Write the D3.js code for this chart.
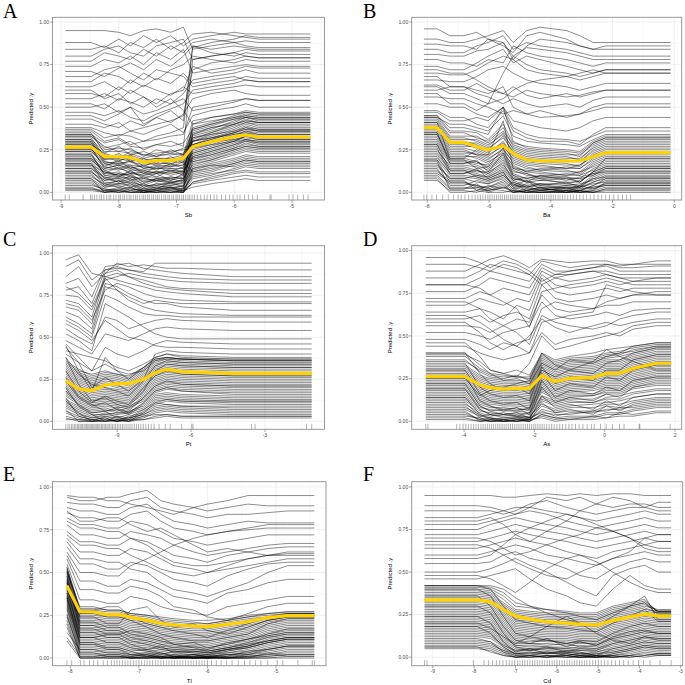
<!DOCTYPE html>
<html><head><meta charset="utf-8">
<script src="https://cdn.jsdelivr.net/npm/d3@7"></script>
<style>html,body{margin:0;padding:0;background:#fff;} svg{display:block}</style>
</head><body>
<svg id="chart" width="685" height="685"></svg>
<script>
// ---------- shared y ticks (predicted values in percent) ----------
const yTickValues = [0, 25, 50, 75, 100];
const yTickLabels = ["0.00", "0.25", "0.50", "0.75", "1.00"];

// ---------- A : Sb ----------
const sbGrid = [-8.93,-8.48,-8.25,-8.0,-7.8,-7.57,-7.35,-7.1,-6.88,-6.72,-6.4,-6.0,-5.8,-5.58,-4.68];
const sbPdp = [26.6,26.6,21,21,20.5,17.6,18.6,18.6,20,26.8,29.7,32.7,33.7,32.5,32.5];
const sbIce = [
[2,2,0,0,1,0,0,1,0,8,10,14,16,15,15],[5,5,1,2,3,0,1,2,1,12,15,18,20,19,19],[8,8,3,4,2,1,2,3,2,15,18,22,24,23,23],
[10,10,4,5,6,2,3,4,3,18,20,25,27,26,26],[12,12,6,5,7,3,5,5,4,20,23,27,30,28,28],[14,14,7,8,6,4,4,6,5,22,25,29,31,30,30],
[16,16,9,8,9,6,7,6,7,24,27,31,33,32,32],[18,18,10,11,10,7,8,9,8,25,28,32,35,33,33],[19,19,12,10,12,9,9,8,10,27,30,34,36,35,35],
[21,21,13,14,12,10,11,12,11,28,31,35,38,36,36],[22,22,15,13,15,12,12,13,12,30,33,37,40,38,38],[24,24,16,17,15,13,14,14,14,31,35,39,41,40,40],
[25,25,18,17,18,14,15,16,16,33,36,40,43,41,41],[27,27,19,20,18,16,17,17,18,34,38,41,44,42,42],[28,28,20,21,21,17,18,19,20,36,39,43,45,44,44],
[30,30,22,21,22,19,20,20,22,37,40,44,46,45,45],[31,31,24,24,23,20,22,22,23,30,32,34,35,34,34],[33,33,25,26,25,22,23,24,25,26,28,30,31,30,30],
[3,3,0,1,0,0,0,0,1,5,7,9,10,9,9],[7,7,2,1,3,0,2,1,0,6,8,11,12,11,11],[11,11,3,5,4,1,2,3,1,10,12,16,18,17,17],
[15,15,8,6,8,3,5,4,6,14,17,20,22,21,21],[20,20,11,12,9,8,7,9,8,16,19,23,25,24,24],[26,26,14,16,14,11,12,11,13,21,24,28,30,29,29],
[29,29,17,18,16,15,14,15,16,23,26,30,33,32,32],[32,32,21,19,20,18,16,18,19,38,41,45,47,46,46],[17,17,5,7,5,2,4,3,2,35,38,40,42,41,41],
[23,23,10,9,11,6,8,7,9,40,42,44,45,44,44],[34,34,26,28,30,25,28,30,27,78,80,82,84,83,83],[36,36,30,32,28,30,33,35,38,85,88,90,92,91,91],
[38,38,35,33,36,38,40,42,45,72,76,78,80,79,79],[40,40,38,41,36,34,37,40,35,45,48,50,52,50,50],[43,43,40,38,42,39,44,41,46,55,58,60,58,57,57],
[47,47,45,48,44,42,46,49,52,60,62,64,66,65,65],[50,50,52,47,50,46,48,52,55,48,50,53,55,54,54],[52,52,49,55,53,50,55,52,58,66,68,70,72,70,70],
[55,55,58,54,60,56,52,58,60,74,70,72,74,73,73],[58,58,56,62,58,63,60,57,62,58,60,62,63,62,62],[62,62,65,60,66,62,67,64,70,64,66,68,66,65,65],
[65,65,70,68,64,70,66,72,75,80,78,76,78,77,77],[68,68,72,74,70,66,72,70,68,62,64,66,68,67,67],[71,71,68,73,76,72,78,74,80,86,84,86,85,84,84],
[74,74,78,76,80,75,82,78,84,70,72,74,75,74,74],[77,77,82,80,78,84,80,86,82,88,90,88,86,85,85],[80,80,84,86,82,80,86,88,90,78,80,82,80,79,79],
[84,84,86,82,88,85,90,84,88,93,94,92,91,90,90],[88,88,85,90,86,92,88,92,86,90,92,94,93,93,93],[95,95,95,94,92,95,96,94,97,84,86,88,89,88,88],
[45,45,42,46,50,40,44,48,42,86,82,80,82,81,81],[60,60,55,58,52,56,50,55,48,40,44,46,48,47,47],
[1,1,0,1,0,0,1,0,0,6,9,12,13,12,12],[4,4,2,0,2,1,0,0,2,9,11,13,15,14,14],[6,6,1,3,1,2,1,3,0,11,13,17,19,18,18],
[9,9,5,3,5,1,3,2,4,13,16,19,21,20,20],[13,13,4,7,3,5,2,6,3,17,19,24,26,25,25],[14,14,9,6,10,4,7,5,8,19,22,26,29,27,27],
[17,17,8,11,7,9,6,8,6,21,24,28,31,29,29],[19,19,13,9,13,8,11,7,11,23,26,30,33,31,31],[22,22,11,15,11,12,9,13,10,26,29,33,36,34,34],
[24,24,17,14,16,11,15,12,15,28,32,36,39,37,37],[26,26,15,19,14,16,13,17,14,30,34,38,41,39,39],[29,29,21,18,22,15,19,16,21,32,35,40,42,41,41],
[31,31,19,23,18,20,17,21,17,34,37,42,44,43,43],[33,33,27,24,26,21,25,23,26,28,31,35,37,36,36],[35,35,23,27,22,24,21,25,22,18,21,25,27,26,26],
[2,2,1,0,0,1,0,2,1,3,5,7,8,7,7],[8,8,0,2,0,0,1,0,0,14,16,15,17,16,16],[12,12,7,9,8,5,8,6,7,27,30,31,32,31,31],
[16,16,12,10,11,10,12,10,12,32,34,36,38,37,37],[20,20,14,16,13,13,11,14,12,20,22,26,28,27,27],[25,25,20,22,19,18,20,19,21,30,32,35,37,36,36],
[28,28,23,20,24,22,21,23,22,42,44,46,47,46,46],[30,30,18,16,19,14,16,15,18,12,14,17,19,18,18],[34,34,29,31,27,26,28,27,29,37,40,43,44,43,43],
[37,37,32,34,33,30,31,33,34,50,52,54,55,54,54]
];
const sbRug = [-8.93,-8.86,-8.62,-8.49,-8.46,-8.42,-8.38,-8.33,-8.3,-8.26,-8.21,-8.17,-8.14,-8.09,-8.05,-8.0,-7.97,-7.93,-7.9,-7.86,-7.82,-7.79,-7.75,-7.71,-7.68,-7.64,-7.6,-7.57,-7.54,-7.5,-7.47,-7.43,-7.4,-7.36,-7.33,-7.3,-7.26,-7.22,-7.19,-7.15,-7.12,-7.08,-7.05,-7.01,-6.98,-6.95,-6.91,-6.88,-6.84,-6.8,-6.77,-6.73,-6.69,-6.64,-6.58,-6.52,-6.47,-6.41,-6.35,-6.3,-6.22,-6.15,-6.08,-6.02,-5.95,-5.9,-5.82,-5.75,-5.68,-5.6,-5.38,-5.36,-5.05,-4.98,-4.9,-4.8,-4.72];
const sbTicks = [-9,-8,-7,-6,-5];
const sbTickLabels = ["-9","-8","-7","-6","-5"];

// ---------- B : Ba ----------
const baGrid = [-8.11,-7.68,-7.27,-6.81,-6.4,-6.03,-5.54,-5.22,-4.78,-4.35,-3.49,-3.06,-2.63,-2.22,-0.12];
const baPdp = [38,38,29.4,29.4,26.8,24.9,27.4,22.9,19,18.4,18.4,18.4,20.9,23.3,23.3];
const baIce = [
[10,10,3,3,2,1,4,0,0,0,0,0,1,3,3],[13,13,5,5,4,3,6,1,0,1,0,0,2,5,5],[16,16,8,8,6,5,9,3,1,0,1,1,4,7,7],
[19,19,10,10,9,7,11,5,2,2,1,2,6,9,9],[22,22,13,13,11,9,14,7,4,3,3,3,8,11,11],[25,25,15,15,13,11,16,9,6,5,5,4,10,13,13],
[28,28,18,18,16,13,19,11,8,7,6,6,12,15,15],[30,30,20,20,18,15,21,13,10,9,8,8,14,17,17],[32,32,22,22,20,17,24,15,12,11,10,10,16,19,19],
[34,34,24,24,22,19,26,17,14,13,12,12,18,21,21],[36,36,26,26,24,21,28,19,16,15,14,14,20,23,23],[38,38,28,28,26,23,30,21,18,17,16,16,22,25,25],
[40,40,30,30,28,25,33,23,20,19,18,18,24,27,27],[42,42,32,32,30,27,35,25,22,21,20,20,26,29,29],[44,44,35,35,32,30,38,27,24,23,22,22,28,31,31],
[12,12,7,7,1,4,2,6,3,5,2,4,2,4,4],[18,18,2,2,5,0,3,0,1,3,0,1,0,2,2],[26,26,11,11,14,8,12,4,7,2,4,3,6,8,8],
[35,35,17,17,19,12,23,8,6,10,7,9,11,14,14],[45,45,38,38,36,34,50,30,26,25,24,23,29,32,32],[7,7,1,1,0,2,1,0,2,1,3,0,0,1,1],
[41,41,20,20,25,22,42,14,11,8,9,6,12,20,20],[48,48,44,44,40,38,48,36,32,30,30,28,34,38,38],[52,52,50,50,46,44,50,42,40,38,36,38,42,44,44],
[56,56,55,55,52,50,46,48,46,44,45,46,48,50,50],[60,60,62,62,58,56,52,55,52,50,52,50,54,56,56],[63,63,60,60,64,60,58,62,57,55,58,56,58,60,60],
[66,66,65,65,68,72,74,70,66,64,62,60,62,64,64],[70,70,69,69,72,76,80,78,72,70,68,66,68,70,70],[74,74,72,72,76,80,84,76,80,78,74,72,70,72,72],
[78,78,76,76,74,78,76,86,82,80,78,76,74,76,76],[81,81,80,80,83,84,88,80,85,84,82,80,78,78,78],[84,84,82,82,86,88,92,84,88,86,84,82,80,80,80],
[87,87,86,86,84,90,86,82,92,94,90,86,84,84,84],[90,90,88,88,90,92,95,88,95,97,95,92,88,88,88],[96,96,92,92,94,90,88,78,86,90,88,86,84,86,86],
[62,62,58,58,55,52,70,80,75,72,70,68,70,72,72],[72,72,70,70,66,62,58,56,60,58,56,57,59,60,60],[58,58,52,52,48,52,55,60,64,66,68,70,72,70,70],
[68,68,62,62,60,58,62,50,46,48,44,46,50,52,52],
[9,9,2,2,3,1,3,1,0,0,1,0,0,2,2],[11,11,6,6,4,2,5,0,1,0,0,1,3,4,4],[14,14,4,4,7,5,8,2,0,2,1,0,1,6,6],
[15,15,9,9,8,6,10,4,3,1,2,3,5,6,6],[17,17,8,8,10,8,12,3,5,4,2,1,4,8,8],[20,20,12,12,10,9,13,6,3,5,4,5,7,10,10],
[21,21,11,11,13,10,15,8,7,4,6,3,9,12,12],[23,23,14,14,12,12,17,7,9,8,5,7,11,12,12],[24,24,16,16,15,11,18,10,8,10,9,8,10,14,14],
[27,27,17,17,18,14,20,12,11,9,11,10,13,16,16],[29,29,19,19,17,16,22,14,13,12,10,12,15,18,18],[31,31,21,21,21,18,23,16,12,14,13,11,17,20,20],
[33,33,23,23,23,20,25,18,15,13,15,14,19,22,22],[35,35,25,25,22,22,27,20,17,16,14,16,21,24,24],[37,37,27,27,27,24,29,22,19,18,17,15,23,26,26],
[39,39,29,29,29,26,32,24,21,20,19,18,25,28,28],[41,41,31,31,31,28,34,26,23,22,21,19,27,30,30],[43,43,33,33,33,29,36,28,25,24,23,21,29,32,32],
[45,45,36,36,35,31,40,29,27,26,25,24,30,33,33],[8,8,0,0,1,0,0,1,0,0,0,1,0,0,0],[19,19,6,6,3,3,7,2,4,1,3,2,3,5,5],
[28,28,13,13,9,7,10,5,1,3,0,4,8,9,9],[34,34,19,19,14,15,26,10,6,7,8,6,12,15,15],[44,44,40,40,38,36,45,33,30,29,28,27,31,34,34],
[47,47,42,42,44,42,50,38,34,32,31,30,33,36,36]
];
const baRug = [-8.11,-8.02,-7.85,-7.7,-7.5,-7.32,-7.15,-7.0,-6.9,-6.78,-6.66,-6.55,-6.45,-6.36,-6.28,-6.2,-6.12,-6.04,-5.97,-5.9,-5.83,-5.76,-5.7,-5.63,-5.57,-5.5,-5.44,-5.38,-5.31,-5.25,-5.19,-5.13,-5.07,-5.0,-4.94,-4.88,-4.82,-4.76,-4.7,-4.64,-4.58,-4.52,-4.46,-4.4,-4.33,-4.27,-4.2,-4.13,-4.06,-3.99,-3.92,-3.85,-3.77,-3.7,-3.62,-3.54,-3.45,-3.36,-3.27,-3.17,-3.06,-2.95,-2.84,-2.72,-2.6,-2.47,-2.35,-2.22,-2.1,-1.96,-1.82,-1.68,-1.55,-1.42];
const baTicks = [-8,-6,-4,-2,0];
const baTickLabels = ["-8","-6","-4","-2","0"];

// ---------- C : Pt ----------
const ptGrid = [-11.09,-10.57,-10.03,-9.49,-9.01,-8.54,-7.93,-7.46,-6.99,-6.38,-4.28,-1.1];
const ptPdp = [24.2,19.2,18.2,21.6,22.4,22.4,25,28.9,30.9,29.5,28.5,28.5];
const ptIce = [
[2,0,0,0,1,0,2,5,6,5,4,4],[5,2,0,1,0,2,4,8,9,8,7,7],[8,4,2,3,2,1,6,10,12,11,10,10],[10,6,3,5,4,5,8,13,14,13,12,12],
[12,8,5,6,7,4,10,15,16,15,14,14],[15,10,7,8,6,8,12,17,19,18,17,17],[17,12,9,10,9,7,14,19,21,20,19,19],[19,14,11,12,11,10,16,21,23,22,21,21],
[21,16,13,14,13,12,18,23,25,24,23,23],[23,18,15,16,15,14,20,25,27,26,25,25],[25,20,17,18,17,16,22,27,29,28,27,27],[27,22,19,20,19,18,24,29,31,30,29,29],
[29,24,21,23,21,20,26,31,33,32,31,31],[31,26,23,25,24,22,28,33,35,34,33,33],[33,28,25,27,26,24,30,35,37,36,35,35],[14,3,1,2,0,1,3,4,4,3,3,3],
[20,9,4,0,3,0,5,11,10,9,9,9],[26,15,10,6,8,5,11,18,20,18,16,16],[35,30,28,30,28,27,32,37,38,37,36,36],[38,22,12,14,10,9,18,30,34,33,32,32],
[44,35,20,26,22,18,25,40,42,41,40,40],[48,44,40,52,50,48,52,55,56,55,54,54],[55,50,46,62,60,55,58,60,61,60,59,59],[60,56,50,75,72,68,64,63,63,62,62,62],
[65,62,55,82,80,76,72,70,70,68,66,66],[68,66,58,86,84,82,80,78,77,76,74,74],[72,70,62,88,90,86,84,82,80,79,78,78],[75,74,66,84,86,88,86,85,84,83,82,82],
[78,80,70,90,92,90,88,87,86,85,84,84],[82,85,74,92,93,94,91,90,89,88,86,86],[86,92,80,88,94,92,93,92,91,91,90,90],[92,96,84,90,91,90,89,94,94,94,94,94],
[96,99,88,86,88,86,82,80,79,78,76,76],[52,48,42,70,66,62,56,52,50,49,49,49],[58,54,48,60,55,50,48,45,44,44,43,43],[40,35,30,44,40,38,42,46,48,47,46,46],
[62,58,52,80,78,74,70,72,71,70,70,70],[70,68,60,78,82,80,76,74,73,72,71,71],[45,30,18,38,30,25,32,38,40,38,37,37],[80,76,68,85,78,72,68,66,65,64,63,63],
[1,1,0,0,0,1,1,3,4,3,3,3],[3,1,1,0,1,0,3,6,7,6,5,5],[6,3,1,2,0,3,5,9,10,9,8,8],[9,5,2,4,3,2,7,11,13,12,11,11],
[11,7,4,4,5,6,9,14,15,14,13,13],[13,9,6,7,5,5,11,16,17,16,15,15],[16,11,8,9,8,9,13,18,20,19,18,18],[18,13,10,11,10,8,15,20,22,21,20,20],
[20,15,12,13,12,11,17,22,24,23,22,22],[22,17,14,15,14,13,19,24,26,25,24,24],[24,19,16,17,16,15,21,26,28,27,26,26],[26,21,18,19,18,17,23,28,30,29,28,28],
[28,23,20,22,20,19,25,30,32,31,30,30],[30,25,22,24,23,21,27,32,34,33,32,32],[32,27,24,26,25,23,29,34,36,35,34,34],[34,29,26,28,27,25,31,36,37,37,36,36],
[36,31,27,29,28,26,32,37,38,37,37,37],[7,0,0,1,0,0,1,2,3,2,2,2],[12,5,0,3,1,2,4,7,8,7,6,6],[18,10,5,6,2,4,7,12,13,12,12,12],
[24,14,9,11,7,6,14,21,24,22,21,21],[30,18,11,15,12,10,20,27,30,28,27,27],[38,28,22,20,18,15,24,33,36,35,34,34],[42,40,38,36,32,30,34,38,40,39,38,38],
[46,38,30,34,30,28,30,36,38,37,36,36]
];
const ptRug = [-11.09,-11.0,-10.93,-10.86,-10.8,-10.74,-10.68,-10.62,-10.57,-10.51,-10.46,-10.41,-10.35,-10.3,-10.25,-10.2,-10.15,-10.1,-10.05,-10.0,-9.95,-9.9,-9.85,-9.8,-9.75,-9.7,-9.64,-9.59,-9.53,-9.48,-9.42,-9.37,-9.31,-9.25,-9.19,-9.13,-9.07,-9.0,-8.93,-8.86,-8.79,-8.72,-8.64,-8.56,-8.48,-8.4,-8.31,-8.22,-8.13,-8.04,-7.94,-7.84,-7.73,-7.62,-7.5,-7.3,-7.05,-6.85,-6.38,-5.97,-5.92,-3.54,-3.4,-1.31,-1.1];
const ptTicks = [-9,-6,-3];
const ptTickLabels = ["-9","-6","-3"];

// ---------- D : As ----------
const asGrid = [-5.09,-3.97,-3.55,-3.26,-2.88,-2.5,-2.14,-1.79,-1.41,-1.0,-0.33,0.05,0.43,0.81,1.47,1.89];
const asPdp = [26.2,26.2,21.3,19.7,18.8,19.3,19.3,26.8,23.2,25.2,25.6,28.1,28.1,31,34,34];
const asIce = [
[1,1,0,0,0,0,0,3,1,2,2,4,4,6,8,8],[4,4,1,0,1,0,1,6,3,5,5,7,7,9,11,11],[7,7,3,2,1,2,1,9,6,8,8,10,10,12,14,14],
[10,10,5,3,4,3,2,12,9,11,11,13,13,16,18,18],[12,12,6,5,4,5,4,14,11,13,13,16,16,19,21,21],[14,14,8,7,6,6,5,17,13,15,15,18,18,21,24,24],
[16,16,10,8,8,7,7,19,15,17,18,20,20,23,26,26],[18,18,12,10,9,9,8,21,17,19,20,22,22,25,28,28],[20,20,14,12,11,11,10,23,19,21,22,24,24,27,30,30],
[22,22,16,14,13,13,12,25,21,23,24,26,26,29,32,32],[24,24,18,16,15,15,14,27,23,25,26,28,28,31,34,34],[26,26,20,18,17,17,16,29,25,27,28,30,30,33,36,36],
[28,28,22,20,19,19,18,31,27,29,30,32,32,35,38,38],[30,30,24,22,21,21,20,33,29,31,32,34,34,37,40,40],[32,32,26,24,23,23,22,35,31,33,34,36,36,39,42,42],
[35,35,30,27,26,26,25,38,34,36,37,39,40,41,44,44],[9,9,2,0,0,1,0,4,2,1,3,2,5,4,6,6],[19,19,7,4,2,3,1,15,8,10,7,12,9,14,16,16],
[27,27,12,9,6,8,4,24,14,18,16,20,18,24,26,26],[40,40,33,28,24,25,22,34,30,36,34,38,40,44,46,46],[25,25,15,18,20,22,24,40,33,30,35,42,38,35,30,30],
[44,44,40,38,36,38,40,52,45,48,50,52,50,54,56,56],[48,48,45,42,46,44,50,60,55,52,56,58,56,58,60,60],[52,52,50,48,52,54,56,70,62,60,62,64,62,65,66,66],
[56,56,55,52,56,60,58,74,66,64,66,68,68,70,70,70],[60,60,62,58,62,64,60,80,72,70,72,74,72,74,74,74],[64,64,66,64,60,68,65,84,76,74,76,78,76,78,78,78],
[68,68,72,70,68,72,70,86,80,78,80,82,80,82,82,82],[72,72,76,74,78,76,74,88,84,82,84,86,84,84,84,84],[76,76,80,84,82,80,78,90,86,86,88,88,86,86,86,86],
[80,80,84,88,86,84,82,92,88,88,90,91,88,88,88,88],[84,84,88,92,90,88,86,94,92,90,92,92,90,90,91,91],[88,88,92,95,97,94,90,95,94,93,94,94,92,92,92,92],
[92,92,90,88,92,90,86,80,84,86,88,86,84,82,84,84],[96,96,93,90,94,92,88,82,86,88,90,92,91,92,94,94],[62,62,58,54,48,44,40,58,60,62,64,80,78,76,74,74],
[70,70,66,60,56,52,45,62,58,56,54,56,60,62,64,64],[58,58,52,46,42,46,48,66,70,68,66,70,72,74,76,76],[80,80,78,74,70,66,55,76,78,80,82,84,82,80,80,80],
[46,46,38,30,28,26,34,50,42,44,48,50,52,56,58,58],
[2,2,0,1,0,1,0,4,2,3,3,5,5,7,9,9],[3,3,2,0,1,0,2,5,4,4,6,6,8,8,10,10],[5,5,1,2,0,1,1,7,5,6,6,9,8,11,13,13],
[8,8,4,1,2,2,3,10,7,9,10,11,12,14,16,16],[11,11,3,4,3,4,2,13,10,12,11,14,15,17,19,19],[13,13,7,4,5,3,5,15,12,14,15,17,17,20,22,22],
[15,15,9,6,7,8,6,18,14,16,16,19,19,22,25,25],[17,17,11,9,7,6,8,20,16,18,19,21,21,24,27,27],[19,19,13,11,10,10,9,22,18,20,21,23,23,26,29,29],
[21,21,15,13,12,12,11,24,20,22,23,25,25,28,31,31],[23,23,17,15,14,14,13,26,22,24,25,27,27,30,33,33],[25,25,19,17,16,16,15,28,24,26,27,29,29,32,35,35],
[27,27,21,19,18,18,17,30,26,28,29,31,31,34,37,37],[29,29,23,21,20,20,19,32,28,30,31,33,33,36,39,39],[31,31,25,23,22,22,21,34,30,32,33,35,35,38,41,41],
[33,33,27,25,24,24,23,36,32,34,35,37,38,40,43,43],[36,36,29,26,25,27,24,37,33,35,36,38,39,42,44,44],[38,38,31,28,27,26,26,39,35,37,38,40,41,43,45,45],
[6,6,0,1,0,0,1,2,0,1,1,2,3,3,5,5],[14,14,4,2,1,2,0,11,5,7,4,9,6,10,12,12],[22,22,9,6,4,5,2,20,11,14,12,16,14,20,23,23],
[30,30,16,12,10,11,7,28,18,22,20,26,24,30,33,33],[34,34,20,16,14,15,12,32,22,26,24,30,30,36,39,39],[39,39,35,30,28,30,27,40,36,38,40,42,43,44,46,46],
[40,40,28,22,18,20,16,30,26,30,28,34,36,40,43,43]
];
const asRug = [-5.09,-5.03,-4.21,-4.12,-4.03,-3.95,-3.88,-3.8,-3.73,-3.66,-3.59,-3.52,-3.46,-3.4,-3.34,-3.28,-3.22,-3.16,-3.1,-3.04,-2.98,-2.92,-2.86,-2.8,-2.74,-2.68,-2.62,-2.56,-2.5,-2.44,-2.38,-2.32,-2.26,-2.2,-2.14,-2.08,-2.02,-1.96,-1.9,-1.84,-1.78,-1.72,-1.65,-1.58,-1.51,-1.44,-1.36,-1.28,-1.2,-1.11,-1.02,-0.93,-0.83,-0.73,-0.62,-0.5,-0.38,-0.3,-0.12,0.04,0.22,0.42,0.55,0.98,1.0,1.86];
const asTicks = [-4,-2,0,2];
const asTickLabels = ["-4","-2","0","2"];

// ---------- E : Tl ----------
const tlGrid = [-8.05,-7.86,-7.66,-7.46,-7.29,-7.12,-6.88,-6.68,-6.49,-6.2,-6.0,-5.71,-5.41,-5.12,-4.83,-4.44];
const tlPdp = [42.3,27.1,26.9,25.3,25.5,23.8,22,20.3,19.3,18.7,18.3,19.7,21.2,23.6,24.8,24.8];
const tlIce = [
[20,0,0,0,0,0,0,0,0,0,0,0,0,1,2,2],[25,2,2,1,1,0,1,0,0,0,0,1,1,2,4,4],[28,4,4,3,3,2,1,1,0,1,0,1,2,4,6,6],
[30,6,6,5,5,3,3,2,1,1,1,2,3,6,8,8],[33,8,8,7,7,5,4,3,2,2,2,3,5,8,10,10],[35,10,10,9,9,7,6,5,4,3,3,5,7,10,12,12],
[37,12,12,11,11,9,8,6,5,5,4,6,8,12,14,14],[39,14,14,13,13,11,10,8,7,6,6,8,10,14,16,16],[41,16,16,15,15,13,12,10,9,8,8,10,12,16,18,18],
[43,18,18,17,17,15,14,12,11,10,10,12,14,18,20,20],[45,20,20,19,19,17,16,14,13,12,12,14,16,20,22,22],[47,22,22,21,21,19,18,16,15,14,14,16,18,22,24,24],
[49,24,24,23,23,21,20,18,17,16,16,18,20,23,25,25],[51,26,26,25,25,23,22,20,19,18,18,20,22,24,26,26],[53,28,28,27,27,25,24,22,21,20,20,22,24,25,26,26],
[15,5,5,3,3,1,2,0,1,0,1,0,2,3,1,1],[31,9,9,6,6,4,1,3,1,2,0,3,4,5,7,7],[38,15,15,12,12,8,5,7,3,4,3,5,6,9,11,11],
[44,19,19,16,16,12,10,8,6,7,5,9,11,13,15,15],[50,30,30,28,28,26,25,23,22,21,20,22,24,26,27,27],[12,1,1,2,2,0,0,1,0,0,0,0,0,0,1,1],
[40,24,24,20,20,28,30,22,18,20,16,14,18,22,24,24],[55,34,34,32,32,36,34,30,28,26,25,30,32,34,36,36],[60,45,45,42,42,46,44,40,36,34,32,38,40,44,46,46],
[65,55,55,52,52,56,54,50,46,44,42,48,52,55,56,56],[70,62,62,60,60,64,62,58,54,52,50,54,58,60,61,61],[74,68,68,66,66,70,68,64,60,58,56,60,62,64,65,65],
[78,72,72,70,70,74,72,70,66,62,60,62,64,66,67,67],[82,78,78,76,76,80,78,74,70,68,66,68,70,72,72,72],[85,82,82,80,80,84,86,80,76,74,72,74,75,76,76,76],
[88,86,86,84,84,88,90,84,80,78,76,78,80,79,79,79],[91,90,90,88,88,92,94,88,86,84,82,84,84,85,86,86],[94,92,92,94,94,96,98,92,90,88,86,88,90,89,89,89],
[95,94,94,92,92,90,88,86,84,88,90,92,95,95,95,95],[80,76,76,74,74,70,66,60,56,54,54,56,58,60,62,62],[72,66,66,64,64,60,56,52,50,48,50,52,54,56,58,58],
[62,50,50,48,48,54,58,62,66,70,72,74,76,78,78,78],[58,40,40,38,38,42,40,36,30,28,24,22,26,30,32,32],[86,80,80,82,82,78,74,76,72,66,62,64,62,60,60,60],
[68,58,58,56,56,52,50,44,40,38,36,40,44,50,54,54],
[18,0,0,1,1,0,0,0,1,0,0,0,1,2,3,3],[22,1,1,0,0,1,0,1,0,0,1,0,0,3,5,5],[26,3,3,2,2,1,2,0,1,0,0,2,2,5,7,7],
[29,5,5,4,4,2,2,1,0,2,1,1,4,7,9,9],[32,7,7,6,6,4,5,3,1,1,2,4,6,9,11,11],[34,9,9,8,8,6,5,4,3,2,1,4,6,9,11,11],
[36,11,11,10,10,8,7,5,4,4,3,5,7,11,13,13],[38,13,13,12,12,10,9,7,6,5,5,7,9,13,15,15],[40,15,15,14,14,12,11,9,8,7,7,9,11,15,17,17],
[42,17,17,16,16,14,13,11,10,9,9,11,13,17,19,19],[44,19,19,18,18,16,15,13,12,11,11,13,15,19,21,21],[46,21,21,20,20,18,17,15,14,13,13,15,17,21,23,23],
[48,23,23,22,22,20,19,17,16,15,15,17,19,22,24,24],[50,25,25,24,24,22,21,19,18,17,17,19,21,23,25,25],[52,27,27,26,26,24,23,21,20,19,19,21,23,24,25,25],
[53,29,29,28,28,26,25,24,23,22,22,23,25,26,27,27],[10,0,0,0,0,0,0,0,0,0,0,0,0,0,0,0],[24,3,3,1,1,0,1,0,0,1,0,0,1,1,2,2],
[36,8,8,5,5,2,3,1,2,0,1,2,3,5,7,7],[42,12,12,9,9,6,4,2,4,3,2,5,7,10,12,12],[46,17,17,14,14,10,8,6,5,4,4,6,9,12,14,14],
[48,21,21,18,18,14,12,10,8,9,6,8,11,14,17,17],[51,28,28,30,30,24,20,18,16,14,12,16,20,24,26,26],[45,26,26,24,24,22,18,14,12,10,10,12,14,20,23,23],
[35,12,12,14,14,16,14,12,8,6,4,6,8,10,12,12]
];
const tlRug = [-8.05,-7.98,-7.85,-7.8,-7.72,-7.66,-7.6,-7.52,-7.46,-7.4,-7.36,-7.32,-7.28,-7.24,-7.2,-7.16,-7.12,-7.08,-7.04,-7.0,-6.96,-6.92,-6.88,-6.84,-6.8,-6.76,-6.72,-6.68,-6.64,-6.6,-6.56,-6.52,-6.48,-6.44,-6.4,-6.36,-6.32,-6.28,-6.24,-6.2,-6.16,-6.12,-6.08,-6.04,-6.0,-5.94,-5.87,-5.8,-5.72,-5.64,-5.55,-5.46,-5.38,-5.3,-5.22,-5.12,-4.98,-4.9,-4.68,-4.47,-4.44];
const tlTicks = [-8,-7,-6,-5];
const tlTickLabels = ["-8","-7","-6","-5"];

// ---------- F : Cd ----------
const cdGrid = [-9.2,-7.92,-7.6,-7.29,-7.0,-6.65,-6.24,-5.76,-5.44,-5.04,-4.64,-4.23,-3.87,-3.55,-3.23];
const cdPdp = [33.7,33.7,32.5,28,24.1,22.4,20.8,20,19.4,18.8,21.6,23.5,25.3,24.3,24.3];
const cdIce = [
[6,6,5,2,0,0,1,0,0,0,0,1,2,1,1],[9,9,8,4,1,1,0,1,0,1,1,2,4,3,3],[12,12,11,6,2,3,2,2,1,0,2,4,6,5,5],
[15,15,14,8,4,4,3,3,2,2,4,6,8,7,7],[17,17,16,10,6,5,5,4,4,3,6,8,10,9,9],[19,19,18,12,7,7,6,6,5,5,8,10,12,11,11],
[21,21,20,14,9,8,8,7,7,6,10,12,14,13,13],[23,23,22,16,11,10,9,9,8,8,12,14,16,15,15],[25,25,24,18,13,12,11,11,10,10,14,16,18,17,17],
[27,27,26,20,15,14,13,13,12,12,16,18,20,19,19],[29,29,28,22,17,16,15,15,14,14,18,20,22,21,21],[31,31,30,24,19,18,17,17,16,16,20,22,24,23,23],
[33,33,32,26,21,20,19,19,18,18,22,24,26,25,25],[35,35,34,28,23,22,21,21,20,20,24,26,28,27,27],[37,37,36,30,25,24,23,23,22,22,26,28,30,28,28],
[39,39,38,32,27,26,25,25,24,24,28,30,32,27,27],[41,41,40,36,30,29,28,27,26,26,30,32,34,26,26],[11,11,9,3,0,1,0,2,1,1,0,0,1,2,2],
[24,24,20,9,3,5,2,4,3,1,5,7,9,8,8],[36,36,30,18,10,8,11,6,9,7,12,15,16,14,14],[42,42,42,40,35,30,26,22,20,18,24,30,36,22,22],
[20,20,17,12,8,12,18,24,20,14,10,8,12,10,10],[46,46,48,50,52,46,40,36,32,30,40,48,42,40,40],[50,50,52,55,58,54,50,44,40,36,48,52,54,50,50],
[55,55,56,60,62,58,56,52,48,46,52,56,58,56,56],[60,60,62,64,66,64,60,58,56,54,58,60,62,60,60],[64,64,66,68,70,68,66,62,60,58,62,64,66,64,64],
[68,68,70,72,74,72,70,68,66,64,66,68,70,68,68],[72,72,74,76,78,76,74,72,70,68,70,72,74,72,72],[75,75,78,80,82,80,78,76,74,72,74,76,78,76,76],
[78,78,80,82,84,86,84,80,78,76,78,80,82,80,80],[82,82,84,86,88,88,86,84,82,80,82,84,86,84,84],[86,86,86,84,86,90,92,88,86,84,86,88,88,86,86],
[89,89,88,86,84,88,94,92,94,90,88,90,90,88,88],[95,95,95,94,94,95,96,95,96,95,96,96,95,95,95],[80,80,82,78,72,68,74,80,86,90,94,92,88,91,91],
[70,70,68,64,60,62,66,70,72,76,74,70,66,68,68],[58,58,60,66,72,76,80,84,82,78,74,70,64,62,62],[48,48,46,42,38,44,52,58,60,56,50,44,40,38,38],
[66,66,64,60,56,52,48,46,50,54,58,62,70,72,72],
[5,5,4,1,0,1,0,0,1,0,1,0,1,2,2],[7,7,6,3,1,0,1,0,0,1,0,1,3,2,2],[8,8,7,4,2,2,1,1,0,0,1,3,5,4,4],
[10,10,9,5,2,2,3,2,1,2,3,5,7,6,6],[13,13,12,7,3,3,2,3,3,1,3,5,7,6,6],[14,14,13,7,4,5,4,3,2,3,5,7,9,8,8],
[16,16,15,9,5,4,5,5,4,4,7,9,11,10,10],[18,18,17,11,7,6,6,5,6,5,9,11,13,12,12],[20,20,19,13,8,8,7,8,6,7,11,13,15,14,14],
[22,22,21,15,10,9,10,8,9,7,11,13,15,14,14],[24,24,23,17,12,11,10,10,9,9,13,15,17,16,16],[26,26,25,19,14,13,12,12,11,11,15,17,19,18,18],
[28,28,27,21,16,15,14,14,13,13,17,19,21,20,20],[30,30,29,23,18,17,16,16,15,15,19,21,23,22,22],[32,32,31,25,20,19,18,18,17,17,21,23,25,24,24],
[34,34,33,27,22,21,20,20,19,19,23,25,27,26,26],[36,36,35,29,24,23,22,22,21,21,25,27,29,26,26],[38,38,37,31,26,25,24,24,23,23,27,29,31,27,27],
[40,40,39,34,28,27,26,26,25,25,29,31,33,27,27],[42,42,41,38,32,30,28,26,24,22,26,30,32,25,25],[6,6,3,1,0,0,0,1,0,0,0,1,0,1,1],
[18,18,14,6,2,1,3,1,2,0,2,4,6,5,5],[30,30,26,14,6,4,6,3,5,4,8,10,12,11,11],[40,40,36,24,14,12,10,8,10,9,14,18,20,18,18],
[42,42,40,30,22,20,18,17,16,15,20,24,28,21,21]
];
const cdRug = [-9.2,-9.14,-8.02,-7.76,-7.65,-7.55,-7.46,-7.38,-7.3,-7.22,-7.15,-7.08,-7.02,-6.95,-6.89,-6.83,-6.77,-6.71,-6.65,-6.59,-6.53,-6.47,-6.41,-6.35,-6.29,-6.23,-6.17,-6.11,-6.05,-5.99,-5.93,-5.87,-5.81,-5.75,-5.69,-5.63,-5.57,-5.51,-5.45,-5.39,-5.33,-5.27,-5.2,-5.13,-5.06,-4.99,-4.92,-4.84,-4.76,-4.67,-4.58,-4.48,-4.38,-4.27,-4.15,-4.02,-3.9,-3.74,-3.5,-3.23];
const cdTicks = [-9,-8,-7,-6,-5,-4,-3];
const cdTickLabels = ["-9","-8","-7","-6","-5","-4","-3"];

// ---------- layout (positions only) ----------
const panels = [
  {letter:"A", title:"Sb", grid:sbGrid, pdp:sbPdp, ice:sbIce, rug:sbRug, ticks:sbTicks, tickLabels:sbTickLabels,
   box:[52.5,17.3,324.5,200], xDomain:[-9.15,-4.435], yDomain:[-4.5,102.8], letterPos:[3,18]},
  {letter:"B", title:"Ba", grid:baGrid, pdp:baPdp, ice:baIce, rug:baRug, ticks:baTicks, tickLabels:baTickLabels,
   box:[411.7,17.3,681.7,200], xDomain:[-8.505,0.24], yDomain:[-4.5,102.8], letterPos:[363,18]},
  {letter:"C", title:"Pt", grid:ptGrid, pdp:ptPdp, ice:ptIce, rug:ptRug, ticks:ptTicks, tickLabels:ptTickLabels,
   box:[52.5,245.7,324.5,429.3], xDomain:[-11.63,-0.58], yDomain:[-4.75,104.4], letterPos:[3,246]},
  {letter:"D", title:"As", grid:asGrid, pdp:asPdp, ice:asIce, rug:asRug, ticks:asTicks, tickLabels:asTickLabels,
   box:[411.7,245.7,681.7,429.3], xDomain:[-5.49,2.19], yDomain:[-4.7,102.9], letterPos:[363,246]},
  {letter:"E", title:"Tl", grid:tlGrid, pdp:tlPdp, ice:tlIce, rug:tlRug, ticks:tlTicks, tickLabels:tlTickLabels,
   box:[52.5,481.7,326,665.7], xDomain:[-8.26,-4.27], yDomain:[-4.5,103.1], letterPos:[3,481]},
  {letter:"F", title:"Cd", grid:cdGrid, pdp:cdPdp, ice:cdIce, rug:cdRug, ticks:cdTicks, tickLabels:cdTickLabels,
   box:[411.7,481.7,682.7,665.7], xDomain:[-9.51,-2.95], yDomain:[-5,103.1], letterPos:[363,481]}
];

const svg = d3.select("#chart");
svg.append("rect").attr("width",685).attr("height",685).attr("fill","#fff");
const sans = "'Liberation Sans', Arial, Helvetica, sans-serif";

function minors(ticks, domain) {
  const out = [];
  const step = ticks[1] - ticks[0];
  const ext = [ticks[0] - step, ...ticks, ticks[ticks.length-1] + step];
  for (let i = 0; i < ext.length - 1; i++) {
    const m = (ext[i] + ext[i+1]) / 2;
    if (m > domain[0] && m < domain[1]) out.push(m);
  }
  return out;
}

panels.forEach(p => {
  const [x0, y0, x1, y1] = p.box;
  const xs = d3.scaleLinear().domain(p.xDomain).range([x0, x1]);
  const ys = d3.scaleLinear().domain(p.yDomain).range([y1, y0]);
  const g = svg.append("g");

  // grid
  const gridG = g.append("g");
  minors(p.ticks, p.xDomain).forEach(v => gridG.append("line").attr("x1",xs(v)).attr("x2",xs(v)).attr("y1",y0).attr("y2",y1).attr("stroke","#f0f0f0").attr("stroke-width",0.4));
  minors(yTickValues, p.yDomain).forEach(v => gridG.append("line").attr("x1",x0).attr("x2",x1).attr("y1",ys(v)).attr("y2",ys(v)).attr("stroke","#f0f0f0").attr("stroke-width",0.4));
  p.ticks.forEach(v => gridG.append("line").attr("x1",xs(v)).attr("x2",xs(v)).attr("y1",y0).attr("y2",y1).attr("stroke","#e6e6e6").attr("stroke-width",0.6));
  yTickValues.forEach(v => gridG.append("line").attr("x1",x0).attr("x2",x1).attr("y1",ys(v)).attr("y2",ys(v)).attr("stroke","#e6e6e6").attr("stroke-width",0.6));

  // ICE curves
  const line = d3.line().defined(d => d[1] !== undefined).x(d => xs(d[0])).y(d => ys(d[1]));
  g.append("g").selectAll("path").data(p.ice).join("path")
    .attr("d", c => line(p.grid.map((x, i) => [x, c[i]])))
    .attr("fill","none").attr("stroke","#000").attr("stroke-opacity",0.6).attr("stroke-width",0.75);

  // PDP
  g.append("path").attr("d", line(p.grid.map((x, i) => [x, p.pdp[i]])))
    .attr("fill","none").attr("stroke","#FFD100").attr("stroke-width",3.2).attr("stroke-linejoin","round");

  // rug
  g.append("g").selectAll("line").data(p.rug).join("line")
    .attr("x1", d => xs(d)).attr("x2", d => xs(d)).attr("y1", y1).attr("y2", y1 - 5.5)
    .attr("stroke","#000").attr("stroke-opacity",0.5).attr("stroke-width",0.6);

  // border
  g.append("rect").attr("x",x0).attr("y",y0).attr("width",x1-x0).attr("height",y1-y0)
    .attr("fill","none").attr("stroke","#8f8f8f").attr("stroke-width",0.9);

  // x axis
  p.ticks.forEach((v, i) => {
    g.append("line").attr("x1",xs(v)).attr("x2",xs(v)).attr("y1",y1).attr("y2",y1+2.7).attr("stroke","#555").attr("stroke-width",0.5);
    g.append("text").attr("x",xs(v)).attr("y",y1+7.5).attr("text-anchor","middle")
      .attr("font-family",sans).attr("font-size",5).attr("fill","#4d4d4d").text(p.tickLabels[i]);
  });
  g.append("text").attr("x",(x0+x1)/2).attr("y",y1+17).attr("text-anchor","middle")
    .attr("font-family",sans).attr("font-size",6).attr("fill","#000").text(p.title);

  // y axis
  yTickValues.forEach((v, i) => {
    g.append("line").attr("x1",x0-2.7).attr("x2",x0).attr("y1",ys(v)).attr("y2",ys(v)).attr("stroke","#555").attr("stroke-width",0.5);
    g.append("text").attr("x",x0-3.5).attr("y",ys(v)+1.8).attr("text-anchor","end")
      .attr("font-family",sans).attr("font-size",5).attr("fill","#4d4d4d").text(yTickLabels[i]);
  });
  const yc = (y0 + y1) / 2;
  g.append("text").attr("transform",`translate(${x0-19.5},${yc}) rotate(-90)`).attr("text-anchor","middle")
    .attr("font-family",sans).attr("font-size",6).attr("fill","#000").text("Predicted .y");

  // panel letter
  g.append("text").attr("x",p.letterPos[0]).attr("y",p.letterPos[1])
    .attr("font-family","'Liberation Serif', 'Times New Roman', serif").attr("font-size",20).attr("fill","#000").text(p.letter);
});
</script>
</body></html>
